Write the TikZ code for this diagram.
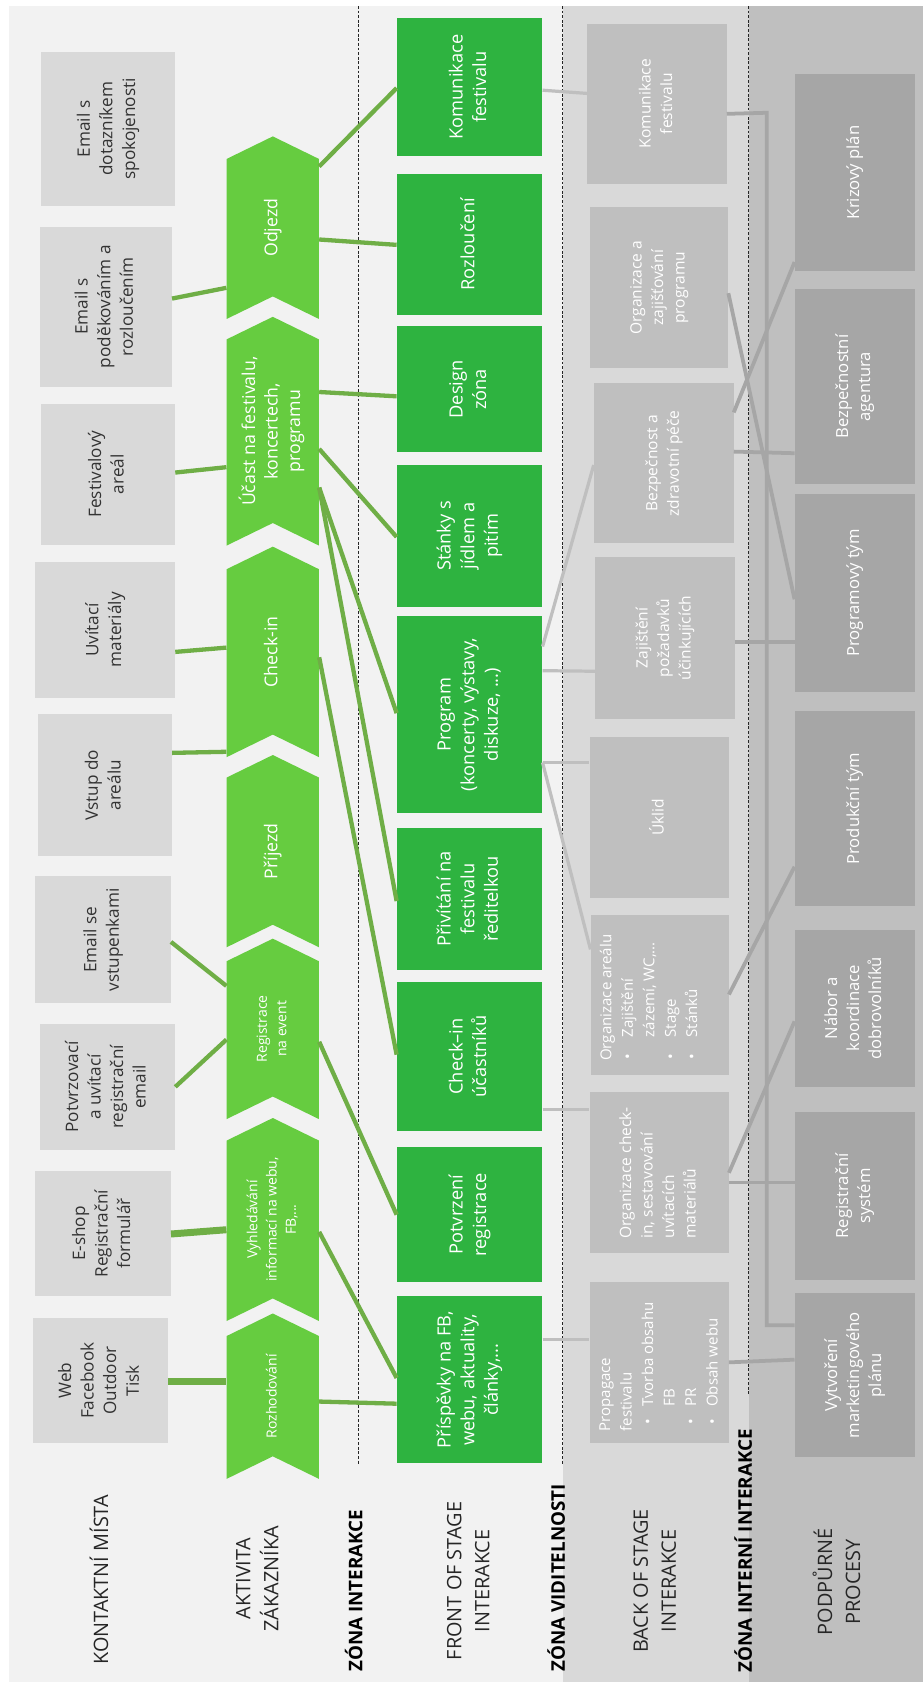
\documentclass[tikz,border=0pt]{standalone}
\usepackage{fontspec}
\setmainfont{Open Sans}
\usepackage{graphicx}
\usetikzlibrary{calc}

\definecolor{bgA}{HTML}{F2F2F2}
\definecolor{bgB}{HTML}{D9D9D9}
\definecolor{bgC}{HTML}{BFBFBF}
\definecolor{cpbox}{HTML}{D9D9D9}
\definecolor{cptext}{HTML}{333333}
\definecolor{chevc}{HTML}{66CC40}
\definecolor{frontc}{HTML}{2EB340}
\definecolor{gline}{HTML}{6FAE46}
\definecolor{backc}{HTML}{BFBFBF}
\definecolor{supc}{HTML}{A6A6A6}
\definecolor{lineB}{HTML}{BFBFBF}
\definecolor{lineC}{HTML}{A6A6A6}
\definecolor{lblc}{HTML}{262626}

\newcommand{\rt}[1]{\rotatebox{90}{\begin{tabular}{@{}c@{}}#1\end{tabular}}}
\newcommand{\rtl}[1]{\rotatebox{90}{\begin{tabular}{@{}l@{}}#1\end{tabular}}}
\newcommand{\bx}[7]{\node[#6, minimum width={#4-#2}, minimum height={#5-#3}] (#1) at ({(#2+#4)/2},{(#3+#5)/2}) {#7};}
\newcommand{\chv}[5]{%
  \fill[chevc] (211,#2) -- (254,#2-21) -- (297,#2) -- (297,#3) -- (254,#3-21) -- (211,#3) -- cycle;
  \node[chevnode, font=#4, minimum height={#3-#2}] (#1) at (254,{(#2-21+#3)/2}) {\rt{#5}};}
\newcommand{\bulA}{\makebox[22pt][l]{\hspace{1.5pt}•}}
\newcommand{\bulB}{\makebox[23pt][l]{\hspace{6pt}•}}

\tikzset{
  cpbx/.style={fill=cpbox, text=cptext, inner sep=0pt, font=\fontsize{16}{21}\selectfont},
  chevnode/.style={inner sep=0pt, minimum width=86, text=white},
  frbx/.style={fill=frontc, text=white, inner sep=0pt, font=\fontsize{17}{22}\selectfont},
  bkbx/.style={fill=backc, text=white, inner sep=0pt, font=\fontsize{14.5}{20}\selectfont},
  bktxt/.style={text=white, inner sep=0pt, font=\fontsize{14}{20}\selectfont},
  spbx/.style={fill=supc, text=white, inner sep=0pt, font=\fontsize{15.5}{20.5}\selectfont},
  lab/.style={text=lblc, inner sep=0pt, font=\fontsize{18.5}{26}\selectfont},
  zlab/.style={text=black, inner sep=0pt, font=\bfseries\fontsize{17.5}{22}\selectfont},
  zdash/.style={draw=black!85, line width=1.1pt, dash pattern=on 2.6pt off 1.7pt},
  gl/.style={draw=gline, line width=4pt},
  glt/.style={draw=gline, line width=6.5pt},
  kl/.style={draw=lineB, line width=3pt},
  ll/.style={draw=lineC, line width=3.5pt},
}

\begin{document}
\begin{tikzpicture}[x=1pt,y=-1pt]
\useasboundingbox (0,0) rectangle (859,1568);
% zones
\fill[white] (0,0) rectangle (859,1568);
\fill[bgA] (8.5,5.6) rectangle (524,1566);
\fill[bgB] (524,5.6) rectangle (697,1566);
\fill[bgC] (697,5.6) rectangle (859,1566);
\draw[zdash] (333.5,5.6) -- (333.5,1364);
\draw[zdash] (524,5.6) -- (524,1364);
\draw[zdash] (697,5.6) -- (697,1298);

% contact points
\bx{cp1}{38}{48}{163}{192}{cpbx}{\rt{Email s\\dotazníkem\\spokojenosti}}
\bx{cp2}{37}{211}{160}{360}{cpbx}{\rt{Email s\\poděkováním a\\rozloučením}}
\bx{cp3}{38}{376}{163}{507}{cpbx}{\rt{Festivalový\\areál}}
\bx{cp4}{33}{523}{163}{650}{cpbx}{\rt{Uvítací\\materiály}}
\bx{cp5}{35}{665}{160}{797}{cpbx}{\rt{Vstup do\\areálu}}
\bx{cp6}{33}{816}{159}{934}{cpbx}{\rt{Email se\\vstupenkami}}
\bx{cp7}{37}{953}{163}{1071}{cpbx}{\rt{Potvrzovací\\a uvítací\\registrační\\email}}
\bx{cp8}{33}{1090}{159}{1207}{cpbx}{\rt{E-shop\\Registrační\\formulář}}
\bx{cp9}{31}{1227}{156}{1344}{cpbx}{\rt{Web\\Facebook\\Outdoor\\Tisk}}

% customer activity chevrons
\chv{ch1}{148}{297}{\fontsize{16.5}{21}\selectfont}{Odjezd}
\chv{ch2}{316}{508}{\fontsize{16.5}{21}\selectfont}{Účast na festivalu,\\koncertech,\\programu}
\chv{ch3}{530}{705}{\fontsize{16.5}{21}\selectfont}{Check-in}
\chv{ch4}{724}{882}{\fontsize{16.5}{21}\selectfont}{Příjezd}
\chv{ch5}{895}{1042}{\fontsize{13}{18}\selectfont}{Registrace\\na event}
\chv{ch6}{1062}{1230}{\fontsize{13}{18}\selectfont}{Vyhledávání\\informací na webu,\\FB,...}
\chv{ch7}{1244}{1377}{\fontsize{13}{18}\selectfont}{Rozhodování}

% front stage
\bx{f1}{369.5}{17}{505}{145}{frbx}{\rt{Komunikace\\festivalu}}
\bx{f2}{369.5}{162}{505}{293}{frbx}{\rt{Rozloučení}}
\bx{f3}{369.5}{304}{505}{421}{frbx}{\rt{Design\\zóna}}
\bx{f4}{369.5}{433}{505}{565}{frbx}{\rt{Stánky s\\jídlem a\\pitím}}
\bx{f5}{369.5}{574}{505}{756.6}{frbx}{\rt{Program\\(koncerty, výstavy,\\diskuze, ...)}}
\bx{f6}{369.5}{771}{505}{903}{frbx}{\rt{Přivítání na\\festivalu\\ředitelkou}}
\bx{f7}{369.5}{914}{505}{1053.5}{frbx}{\rt{Check–in\\účastníků}}
\bx{f8}{369.5}{1068}{505}{1194}{frbx}{\rt{Potvrzení\\registrace}}
\bx{f9}{369.5}{1207}{505}{1362.5}{frbx}{\rt{Příspěvky na FB,\\webu, aktuality,\\články,...}}

% back stage
\bx{b1}{547}{22}{676.5}{171}{bkbx}{\rt{Komunikace\\festivalu}}
\bx{b2}{549}{193}{678}{343}{bkbx}{\rt{Organizace a\\zajišťování\\programu}}
\bx{b3}{553}{357}{683}{506}{bkbx}{\rt{Bezpečnost a\\zdravotní péče}}
\bx{b4}{554}{519}{684}{669}{bkbx}{\rt{Zajištění\\požadavků\\účinkujících}}
\bx{b5}{549}{686}{679}{836}{bkbx}{\rt{Úklid}}
\bx{b6}{550}{851.5}{678.5}{1000.5}{bkbx}{}
\bx{b7}{549}{1017}{678.5}{1167}{bkbx}{\rtl{Organizace check-\\in, sestavování\\uvítacích\\materiálů}}
\bx{b8}{549}{1194}{678.5}{1344}{bkbx}{}
\node[bktxt, anchor=south west] (b6t) at (555,988) {\rtl{Organizace areálu\\\bulA Zajištění\\\hspace*{22pt}zázemí, WC,...\\\bulA Stage\\\bulA Stánků}};
\node[bktxt, anchor=south west] (b8t) at (554,1333) {\rtl{Propagace\\festivalu\\\bulB Tvorba obsahu\\\hspace*{23pt}FB\\\bulB PR\\\bulB Obsah webu}};

% support processes
\bx{s1}{740}{69}{851.5}{252}{spbx}{\rt{Krizový plán}}
\bx{s2}{740}{269}{851.5}{451}{spbx}{\rt{Bezpečnostní\\agentura}}
\bx{s3}{740}{460}{851.5}{644}{spbx}{\rt{Programový tým}}
\bx{s4}{740}{662}{851.5}{844}{spbx}{\rt{Produkční tým}}
\bx{s5}{740}{865.5}{851.5}{1012}{spbx}{\rt{Nábor a\\koordinace\\dobrovolníků}}
\bx{s6}{740}{1035}{851.5}{1192}{spbx}{\rt{Registrační\\systém}}
\bx{s7}{740}{1204}{851.5}{1357}{spbx}{\rt{Vytvoření\\marketingového\\plánu}}

% contact points -> activity
\draw[gl] (cp2.east |- 0,278) -- (ch1.west |- 0,268);
\draw[gl] (cp3.east |- 0,440) -- (ch2.west |- 0,435);
\draw[gl] (cp4.east |- 0,607) -- (ch3.west |- 0,603);
\draw[gl] (cp5.east |- 0,701) -- (ch3.west |- 0,700);
\draw[gl] (cp6.east |- 0,877) -- (ch5.west |- 0,918);
\draw[gl] (cp7.east |- 0,1012) -- (ch5.west |- 0,968);
\draw[glt] (cp8.east |- 0,1149) -- (ch6.west |- 0,1145);
\draw[glt] (cp9.east |- 0,1286) -- (ch7.west |- 0,1286);

% activity -> front stage
\draw[gl] (ch1.east |- 0,155) -- (f1.west |- 0,82);
\draw[gl] (ch1.east |- 0,223) -- (f2.west |- 0,228);
\draw[gl] (ch2.east |- 0,365) -- (f3.west |- 0,369);
\draw[gl] (ch2.east |- 0,418) -- (f4.west |- 0,500);
\draw[gl] (ch2.east |- 0,454) -- (f5.west |- 0,664);
\draw[gl] (ch2.east |- 0,454) -- (f6.west |- 0,839);
\draw[gl] (ch3.east |- 0,612) -- (f7.west |- 0,982);
\draw[gl] (ch5.east |- 0,970) -- (f8.west |- 0,1131);
\draw[gl] (ch6.east |- 0,1147) -- (f9.west |- 0,1283);
\draw[gl] (ch7.east |- 0,1305) -- (f9.west |- 0,1307);

% front -> back
\draw[kl] (f1.east |- 0,84) -- (b1.west |- 0,87);
\draw[kl] (f5.east |- 0,602) -- (b3.west |- 0,433);
\draw[kl] (f5.east |- 0,624.5) -- (b4.west |- 0,625);
\draw[kl] (f5.east |- 0,710) -- (b5.west |- 0,710);
\draw[kl] (f5.east |- 0,710) -- (b6.west |- 0,884);
\draw[kl] (f7.east |- 0,1033) -- (b7.west |- 0,1033);
\draw[kl] (f9.east |- 0,1247) -- (b8.west |- 0,1247);

% back -> support
\coordinate (bendA) at (714,105);
\coordinate (bendB) at (714,1234);
\draw[ll] (b1.east |- 0,106) -- (bendA) -- (bendB) -- (s7.west |- 0,1234);
\draw[ll] (b2.east |- 0,273) -- (s3.west |- 0,558);
\draw[ll] (s1.west |- 0,244) -- (b3.east |- 0,384);
\draw[ll] (b3.east |- 0,420.5) -- (s2.west |- 0,422);
\draw[ll] (b4.east |- 0,597.5) -- (s3.west |- 0,597.5);
\draw[ll] (b6.east |- 0,926) -- (s4.west |- 0,807);
\draw[ll] (b7.east |- 0,1092) -- (s5.west |- 0,951);
\draw[ll] (b7.east |- 0,1101) -- (s6.west |- 0,1101);
\draw[ll] (b8.east |- 0,1268.5) -- (s7.west |- 0,1266);

% lane labels
\node[lab] (lKM) at (95.5,1471) {\rt{KONTAKTNÍ MÍSTA}};
\node[lab] (lAZ) at (241,1470) {\rt{AKTIVITA\\ZÁKAZNÍKA}};
\node[zlab] (lZI) at (332.6,1481) {\rt{ZÓNA INTERAKCE}};
\node[lab] (lFS) at (437.4,1472) {\rt{FRONT OF STAGE\\INTERAKCE}};
\node[zlab] (lZV) at (521,1469) {\rt{ZÓNA VIDITELNOSTI}};
\node[lab] (lBS) at (611,1472) {\rt{BACK OF STAGE\\INTERAKCE}};
\node[zlab] (lZII) at (695.3,1444) {\rt{ZÓNA INTERNÍ INTERAKCE}};
\node[lab] (lPP) at (782.7,1473) {\rt{PODPŮRNÉ\\PROCESY}};
\end{tikzpicture}
\end{document}
